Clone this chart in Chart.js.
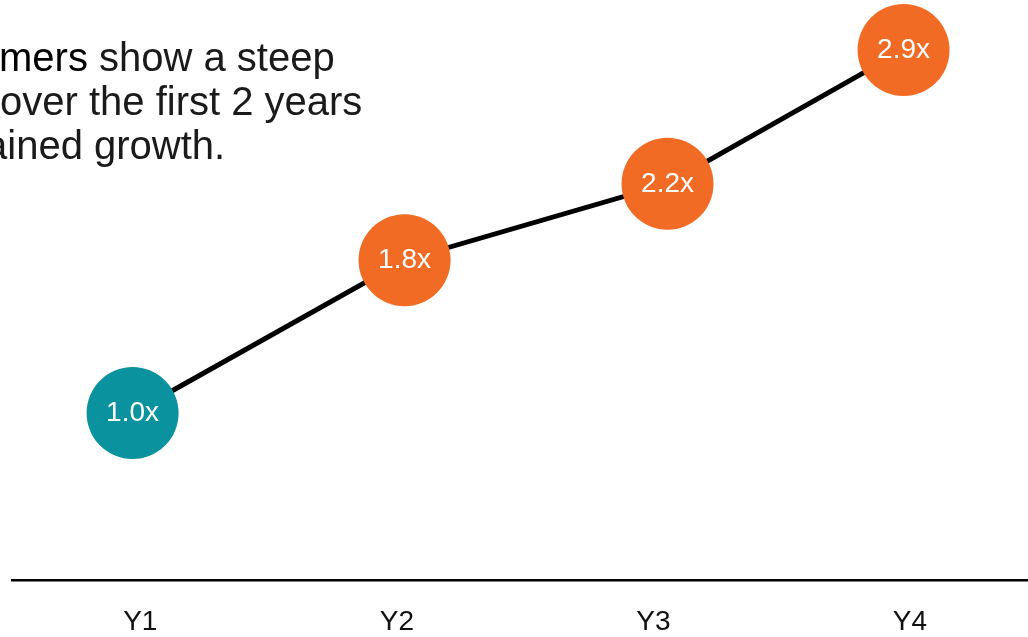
<!DOCTYPE html>
<html>
<head>
<meta charset="utf-8">
<script src="https://cdn.jsdelivr.net/npm/chart.js@4/dist/chart.umd.min.js"></script>
<style>
    body { margin: 0; background: #fff; overflow: hidden; }
    .wrap { position: relative; width: 1028px; height: 637px; }
    canvas { position: absolute; left: 0; top: 0; }
    .note {
        position: absolute;
        font-family: "Liberation Sans", Arial, Helvetica, sans-serif;
        font-size: 40px;
        line-height: 44px;
        color: #1a1a1a;
        white-space: nowrap;
    }
    .note b { font-weight: normal; color: #000; }
</style>
</head>
<body>
<div class="wrap">
    <canvas id="chart" width="1028" height="637"></canvas>
    <div class="note" style="left:-1px; top:35px;"><b>mers</b> show a steep</div>
    <div class="note" style="left:0px; top:79px;">over the first 2 years</div>
    <div class="note" style="left:-15px; top:123px;">ained growth.</div>
</div>
<script>
// --- Data ---
const years = ['Y1', 'Y2', 'Y3', 'Y4'];
const multipliers = [1.0, 1.8, 2.2, 2.9];
// circles sit slightly off the year ticks in the original
const xPositions = [0.97, 2.03, 3.055, 3.975];
const pointColors = ['#0a929f', '#f26b24', '#f26b24', '#f26b24'];

// White "1.0x" labels inside each circle
const pointLabels = {
    id: 'pointLabels',
    afterDatasetsDraw(chart) {
        const ctx = chart.ctx;
        const meta = chart.getDatasetMeta(0);
        ctx.save();
        ctx.font = '28px "Liberation Sans", Arial, sans-serif';
        ctx.fillStyle = '#fff';
        ctx.textAlign = 'center';
        ctx.textBaseline = 'middle';
        meta.data.forEach((pt, i) => {
            ctx.fillText(multipliers[i].toFixed(1) + 'x', pt.x, pt.y);
        });
        ctx.restore();
    }
};

const ctx = document.getElementById('chart').getContext('2d');
new Chart(ctx, {
    type: 'line',
    data: {
        datasets: [{
            data: multipliers.map((v, i) => ({ x: xPositions[i], y: v })),
            borderColor: '#000',
            borderWidth: 5,
            tension: 0,
            pointRadius: 46,
            pointHoverRadius: 46,
            pointBorderWidth: 0,
            pointBackgroundColor: pointColors,
            clip: false
        }]
    },
    options: {
        responsive: false,
        animation: false,
        events: [],
        layout: {
            autoPadding: false,
            // x axis keeps equal space above/below its labels, pull it down
            padding: { left: 12, right: 0, top: 0, bottom: -26.6 }
        },
        scales: {
            x: {
                type: 'linear',
                min: 0.5,
                max: 4.46,
                afterBuildTicks: (scale) => {
                    scale.ticks = years.map((_, i) => ({ value: i + 1 }));
                },
                grid: { display: false, drawTicks: false },
                border: { display: true, color: '#000', width: 2.5 },
                ticks: {
                    padding: 25,
                    color: '#111',
                    font: { family: '"Liberation Sans", Arial, sans-serif', size: 28 },
                    callback: (v) => years[v - 1]
                }
            },
            y: {
                display: false,
                min: 0.126,
                max: 3.162
            }
        },
        plugins: {
            legend: { display: false },
            tooltip: { enabled: false }
        }
    },
    plugins: [pointLabels]
});
</script>
</body>
</html>
